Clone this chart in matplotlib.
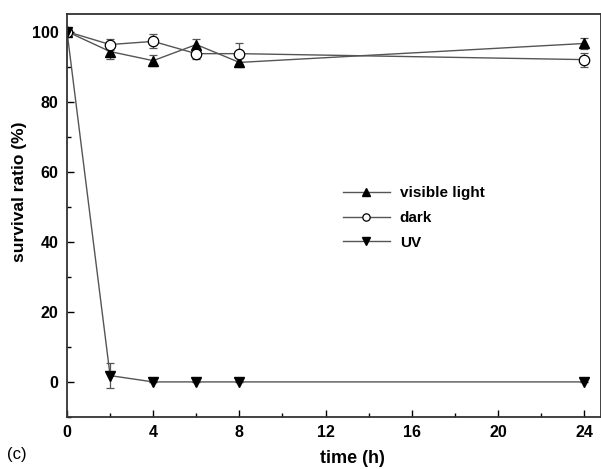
import numpy as np
import matplotlib
matplotlib.use("Agg")
import matplotlib.pyplot as plt
from matplotlib.ticker import MultipleLocator

plt.rcParams['font.family'] = ['Liberation Sans', 'DejaVu Sans']

# time points (h)
time_h = [0, 2, 4, 6, 8, 24]

visible = [100, 94.3, 91.7, 96.3, 91.2, 96.6]
visible_err = [0.8, 2.0, 1.5, 1.5, 1.2, 1.5]

dark = [100, 96.3, 97.2, 93.7, 93.7, 92.0]
dark_err = [0.8, 1.5, 2.0, 1.5, 3.0, 2.0]

uv = [100, 1.8, 0, 0, 0, 0]
uv_err = [0.8, 3.6, 0, 0, 0, 0]

fig = plt.figure(figsize=(6.01, 4.69), dpi=100)
ax = fig.add_axes([0.1115, 0.111, 0.889, 0.859])

line_c = '#555555'
common = dict(color=line_c, lw=1.0, ecolor=line_c, elinewidth=0.9, capsize=3, capthick=0.9)

ax.errorbar(time_h, visible, yerr=visible_err, marker='^', ms=7.5, mfc='black', mec='black',
            label='visible light', **common)
ax.errorbar(time_h, dark, yerr=dark_err, marker='o', ms=7.5, mfc='white', mec='black', mew=0.9,
            label='dark', **common)
ax.errorbar(time_h, uv, yerr=uv_err, marker='v', ms=7.5, mfc='black', mec='black',
            label='UV', **common)

ax.set_xlim(0, 24.8)
ax.set_ylim(-10, 105)
ax.xaxis.set_major_locator(MultipleLocator(4))
ax.xaxis.set_minor_locator(MultipleLocator(2))
ax.yaxis.set_major_locator(MultipleLocator(20))
ax.yaxis.set_minor_locator(MultipleLocator(10))
ax.tick_params(which='both', direction='in', top=False, right=False, width=1.0)
ax.tick_params(which='major', length=5, labelsize=11.5, pad=6)
ax.tick_params(which='minor', length=3)
for lab in ax.get_xticklabels() + ax.get_yticklabels():
    lab.set_fontweight('bold')
for sp in ax.spines.values():
    sp.set_linewidth(1.3)
    sp.set_color('#333333')

ax.set_xlabel('time (h)', fontsize=13, fontweight='bold')
ax.set_ylabel('survival ratio (%)', fontsize=12.5, fontweight='bold')
ax.xaxis.set_label_coords(0.534, -0.082)
ax.yaxis.set_label_coords(-0.075, 0.558)

handles, labels = ax.get_legend_handles_labels()
handles = [h[0] for h in handles]
ax.legend(handles, labels, loc='center left', bbox_to_anchor=(0.49, 0.494), frameon=False,
          prop={'weight': 'bold', 'size': 11}, handlelength=3.1, handletextpad=0.65,
          labelspacing=0.7, markerscale=0.7)

fig.text(0.012, 0.022, '(c)', fontsize=12)

fig.savefig('out.png', dpi=100)
